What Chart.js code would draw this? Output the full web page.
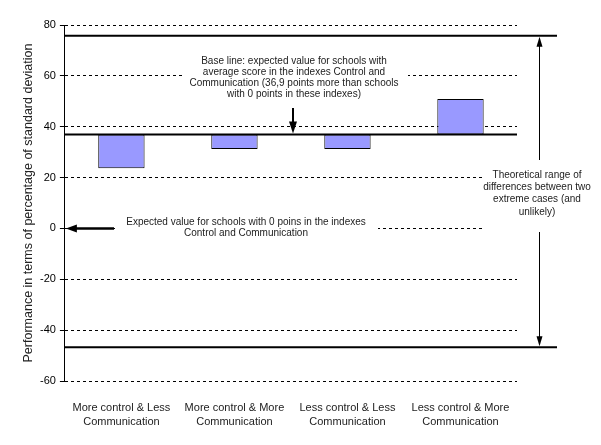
<!DOCTYPE html>
<html>
<head>
<meta charset="utf-8">
<script src="https://cdn.jsdelivr.net/npm/chart.js@4"></script>
<style>
  html, body { margin: 0; padding: 0; background: #fff; }
</style>
</head>
<body>
<canvas id="chart" width="601" height="445"></canvas>
<script>
const categories = [
  ["More control & Less", "Communication"],
  ["More control & More", "Communication"],
  ["Less control & Less", "Communication"],
  ["Less control & More", "Communication"]
];
const barValues = [23.7, 31.2, 31.2, 50.9];
const baseLine = 36.9;
const rangeLines = [75.8, -46.7];
const yRange = [-60, 80];
const yStep = 20;

const baseNote = [
  "Base line: expected value for schools with",
  "average score in the indexes Control and",
  "Communication (36,9 points more than schools",
  "with 0 points in these indexes)"
];
const zeroNote = [
  "Expected value for schools with 0 poins in the indexes",
  "Control and Communication"
];
const rangeNote = [
  "Theoretical range of",
  "differences between two",
  "extreme cases (and",
  "unlikely)"
];

const FONT = "'Liberation Sans', Arial, sans-serif";
Chart.defaults.font.family = FONT;

function line(ctx, x1, y1, x2, y2, w) {
  ctx.beginPath();
  ctx.lineWidth = w;
  ctx.moveTo(x1, y1);
  ctx.lineTo(x2, y2);
  ctx.stroke();
}

// filled triangle, tip at (x, y), pointing dir
function head(ctx, x, y, dir, len, half) {
  ctx.beginPath();
  ctx.moveTo(x, y);
  if (dir === 'up') { ctx.lineTo(x - half, y + len); ctx.lineTo(x + half, y + len); }
  if (dir === 'down') { ctx.lineTo(x - half, y - len); ctx.lineTo(x + half, y - len); }
  if (dir === 'left') { ctx.lineTo(x + len, y - half); ctx.lineTo(x + len, y + half); }
  ctx.closePath();
  ctx.fill();
}

function note(ctx, lines, cx, cy, lh) {
  ctx.font = "10px " + FONT;
  ctx.fillStyle = '#222';
  ctx.textAlign = 'center';
  ctx.textBaseline = 'middle';
  lines.forEach((t, i) => ctx.fillText(t, cx, cy + i * lh));
}

const notesPlugin = {
  id: 'notes',
  afterDatasetsDraw(chart) {
    const ctx = chart.ctx;
    const y = chart.scales.y;
    const area = chart.chartArea;
    const yBase = y.getPixelForValue(baseLine);
    const yTop = y.getPixelForValue(rangeLines[0]);
    const yBottom = y.getPixelForValue(rangeLines[1]);
    const yZero = y.getPixelForValue(0);
    const rangeX = 539.5;
    const midX = 293;

    ctx.save();
    ctx.strokeStyle = '#000';
    ctx.fillStyle = '#000';

    // range arrow
    line(ctx, rangeX, yTop + 4, rangeX, yBottom - 4, 1);
    head(ctx, rangeX, yTop + 1, 'up', 10, 3);
    head(ctx, rangeX, yBottom - 1, 'down', 10, 3);

    // thick reference lines
    line(ctx, area.left, yTop, 557, yTop, 2);
    line(ctx, area.left, yBase, area.right, yBase, 2);
    line(ctx, area.left, yBottom, 557, yBottom, 2);

    // base line arrow
    line(ctx, midX, 108, midX, yBase - 8, 2);
    head(ctx, midX, yBase - 1, 'down', 12, 4);

    // zero arrow
    line(ctx, 114, yZero, area.left + 8, yZero, 2.5);
    head(ctx, area.left + 1, yZero, 'left', 11, 4);

    // white boxes behind notes
    ctx.fillStyle = '#fff';
    ctx.fillRect(183, 52, 225, 53);
    ctx.fillRect(115, 214, 263, 26);
    ctx.fillRect(483, 160, 112, 72);

    note(ctx, baseNote, midX + 1, 61, 11);
    note(ctx, zeroNote, 246, 222, 11);
    note(ctx, rangeNote, 537, 175, 12.3);
    ctx.restore();
  }
};

new Chart(document.getElementById('chart'), {
  type: 'bar',
  data: {
    labels: categories,
    datasets: [{
      data: barValues.map(v => [baseLine, v]),
      backgroundColor: '#9999ff',
      borderColor: '#000',
      borderWidth: 1,
      borderSkipped: false,
      barPercentage: 0.41,
      categoryPercentage: 1
    }]
  },
  options: {
    responsive: false,
    animation: false,
    devicePixelRatio: 1,
    layout: { padding: { left: 15, right: 84, top: 25, bottom: 0 } },
    plugins: { legend: { display: false }, tooltip: { enabled: false } },
    scales: {
      x: {
        grid: { display: false },
        border: { display: false },
        afterFit: s => { s.height = 64; },
        ticks: {
          color: '#222',
          font: { size: 11, lineHeight: 1.27 },
          padding: 12,
          maxRotation: 0,
          autoSkip: false
        }
      },
      y: {
        min: yRange[0],
        max: yRange[1],
        ticks: { stepSize: yStep, color: '#000', font: { size: 11 }, padding: 4 },
        grid: { color: '#000', lineWidth: 1, tickLength: 5, tickColor: '#000' },
        border: { display: true, color: '#000', width: 1, dash: [3, 3] },
        title: {
          display: true,
          text: 'Performance in terms of percentage of standard deviation',
          color: '#222',
          font: { size: 12.5 },
          padding: { top: 6, bottom: 0 }
        }
      }
    }
  },
  plugins: [notesPlugin]
});
</script>
</body>
</html>
